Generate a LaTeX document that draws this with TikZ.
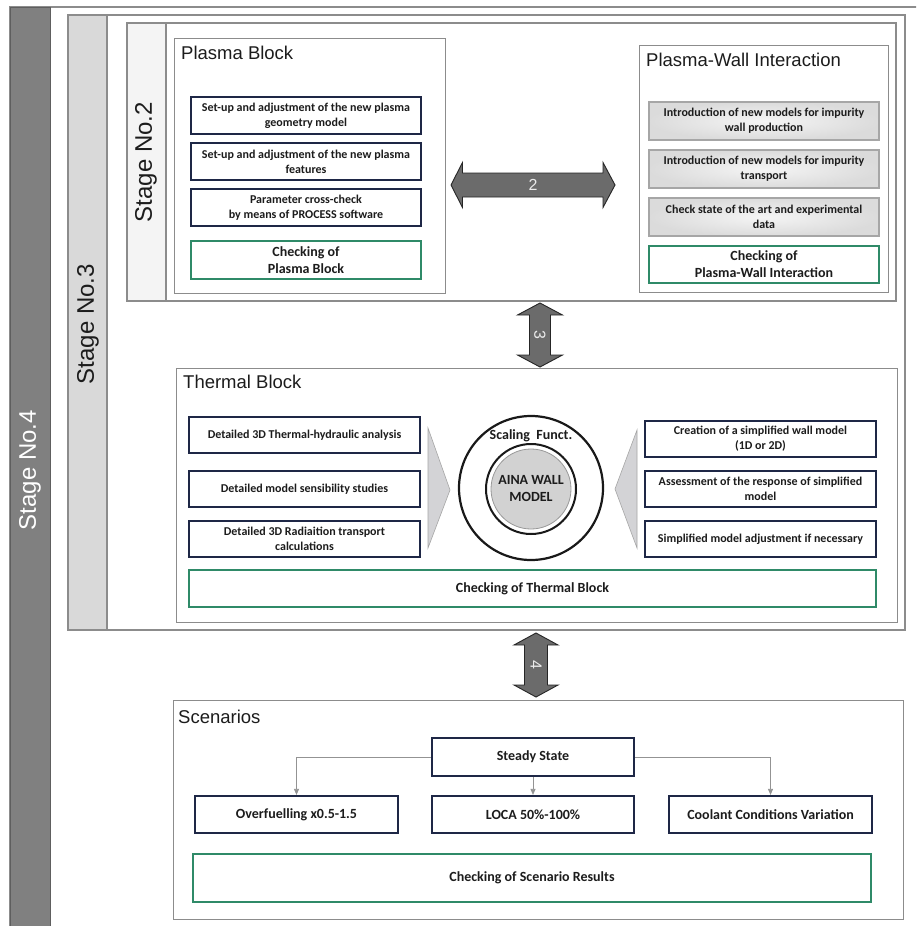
\documentclass[tikz,border=0pt]{standalone}
\usepackage{fontspec}
\setmainfont{Carlito}
\newfontfamily\arialf{Liberation Sans}
\usetikzlibrary{shadows,arrows.meta}

\definecolor{navyedge}{HTML}{1E2746}
\definecolor{checkgreen}{HTML}{2F8A68}
\definecolor{framegray}{HTML}{8C8C8C}
\definecolor{stagedark}{HTML}{808080}
\definecolor{stagedarkedge}{HTML}{5E5E5E}
\definecolor{stagemid}{HTML}{D9D9D9}
\definecolor{stagelight}{HTML}{F4F4F4}
\definecolor{arrowfill}{HTML}{6B6B6B}
\definecolor{chevfill}{HTML}{D3D3D6}
\definecolor{discfill}{HTML}{D2D2D2}
\definecolor{textdark}{HTML}{1C1C1C}

\tikzset{
  stageframe/.style={draw=framegray, line width=1.2pt},
  blockframe/.style={draw=framegray, line width=1pt, fill=white, inner sep=0pt, outer sep=0pt},
  blocktitle/.style={font=\arialf\fontsize{18.5}{22}\selectfont, text=textdark, anchor=west, inner sep=0pt},
  stagelabel/.style={font=\arialf\fontsize{24}{28}\selectfont, rotate=90, inner sep=0pt},
  taskshadow/.style={drop shadow={shadow xshift=1.2pt, shadow yshift=-1.2pt, opacity=0.3}},
  boxnavy/.style={draw=navyedge, line width=2.2pt, fill=white, inner sep=1pt, align=center,
    font=\bfseries\fontsize{12}{15}\selectfont, text=textdark, taskshadow},
  boxgrey/.style={draw=black!35, line width=1.6pt, inner color=black!4, outer color=black!14,
    inner sep=1pt, align=center, font=\bfseries\fontsize{12}{15}\selectfont, text=textdark, taskshadow},
  boxcheck/.style={draw=checkgreen, line width=1.5pt, fill=white, inner sep=1pt, align=center,
    font=\bfseries\fontsize{14}{17}\selectfont, text=textdark, taskshadow},
  blockarrow/.style={fill=arrowfill, draw=black!85, line width=0.9pt, line join=miter},
  arrowlabel/.style={font=\arialf\fontsize{16}{18}\selectfont, text=white!92!black, inner sep=0pt},
  chevron/.style={fill=chevfill, draw=gray!70, line width=0.6pt},
  flowline/.style={draw=gray!85, line width=0.8pt, -{Triangle[length=6pt,width=5pt]}},
}

\begin{document}
\begin{tikzpicture}[x=1pt,y=-1pt]
\useasboundingbox (0,0) rectangle (916,926);
\clip (0,0) rectangle (916,926);
\fill[white] (0,0) rectangle (916,926);

% ---------- stage frames ----------
\draw[stageframe] (10,7) rectangle (940,950);
\draw[draw=stagedarkedge, line width=1pt, fill=stagedark] (10,7) rectangle (50,950);
\node[stagelabel, text=white] (stage4) at (30,470) {Stage No.4};

\draw[stageframe, fill=white] (68,15) rectangle (905,630);
\draw[stageframe, fill=stagemid] (68,15) rectangle (107,630);
\node[stagelabel, text=textdark] (stage3) at (88,324) {Stage No.3};

\draw[stageframe, fill=white] (127,23) rectangle (896,301);
\draw[stageframe, fill=stagelight] (127,23) rectangle (166,301);
\node[stagelabel, text=textdark] (stage2) at (146,162) {Stage No.2};

% ---------- plasma block ----------
\node[blockframe, minimum width=271pt, minimum height=255pt] (plasma) at (309.5,165.5) {};
\node[blocktitle] (plasmaT) at (181,53) {Plasma Block};
\node[boxnavy, minimum width=230pt, minimum height=37pt] (p1) at (306,115.5)
  {Set-up and adjustment of the new plasma\\geometry model};
\node[boxnavy, minimum width=230pt, minimum height=37pt] (p2) at (306,161.5)
  {Set-up and adjustment of the new plasma\\features};
\node[boxnavy, minimum width=230pt, minimum height=37pt] (p3) at (306,207.5)
  {Parameter cross-check\\by means of PROCESS software};
\node[boxcheck, minimum width=230pt, minimum height=38pt] (pc) at (306,260)
  {Checking of\\Plasma Block};

% ---------- plasma-wall interaction ----------
\node[blockframe, minimum width=249pt, minimum height=247pt] (pwi) at (763.5,168.5) {};
\node[blocktitle] (pwiT) at (646,60) {Plasma-Wall Interaction};
\node[boxgrey, minimum width=230pt, minimum height=38pt] (w1) at (764,121)
  {Introduction of new models for impurity\\wall production};
\node[boxgrey, minimum width=230pt, minimum height=38pt] (w2) at (764,169)
  {Introduction of new models for impurity\\transport};
\node[boxgrey, minimum width=230pt, minimum height=38pt] (w3) at (764,217)
  {Check state of the art and experimental\\data};
\node[boxcheck, minimum width=230pt, minimum height=37pt] (wc) at (764,264.5)
  {Checking of\\Plasma-Wall Interaction};

% ---------- block arrow 2 ----------
\draw[blockarrow, shift={(533,185)}]
  (-82,0) -- (-70.5,-22.5) -- (-70.5,-12) -- (70,-12) -- (70,-22.5) -- (82,0)
  -- (70,22.5) -- (70,12) -- (-70.5,12) -- (-70.5,22.5) -- cycle;
\node[arrowlabel] (a2) at (533,185) {2};

% ---------- block arrow 3 ----------
\draw[blockarrow, shift={(540,335)}]
  (0,-32) -- (22.5,-20) -- (10.5,-20) -- (10.5,20) -- (22.5,20) -- (0,32)
  -- (-22.5,20) -- (-10.5,20) -- (-10.5,-20) -- (-22.5,-20) -- cycle;
\node[arrowlabel, rotate=-90] (a3) at (540,335) {3};

% ---------- thermal block ----------
\node[blockframe, minimum width=721pt, minimum height=254pt] (thermal) at (536.5,495) {};
\node[blocktitle] (thermalT) at (183,382) {Thermal Block};
\node[boxnavy, minimum width=231pt, minimum height=36pt] (t1) at (304.5,435)
  {Detailed 3D Thermal-hydraulic analysis};
\node[boxnavy, minimum width=231pt, minimum height=36pt] (t2) at (304.5,489)
  {Detailed model sensibility studies};
\node[boxnavy, minimum width=231pt, minimum height=36pt] (t3) at (304.5,539)
  {Detailed 3D Radiaition transport\\calculations};
\node[boxnavy, minimum width=231pt, minimum height=36pt] (r1) at (760.5,439)
  {Creation of a simplified wall model\\(1D or 2D)};
\node[boxnavy, minimum width=231pt, minimum height=36pt] (r2) at (760.5,489)
  {Assessment of the response of simplified\\model};
\node[boxnavy, minimum width=231pt, minimum height=36pt] (r3) at (760.5,539)
  {Simplified model adjustment if necessary};

\draw[chevron] (428,428) -- (450,490) -- (428,548) -- cycle;
\draw[chevron] (637,430) -- (615,489) -- (637,548) -- cycle;

\node[circle, draw=black!90, line width=2.2pt, fill=white, minimum size=144pt, inner sep=0pt] (ring) at (531,488) {};
\node[circle, draw=black!90, line width=2pt, fill=white, minimum size=90pt, inner sep=0pt] (core) at (531,489) {};
\node[circle, draw=gray!80, line width=0.8pt, fill=discfill, minimum size=80pt, inner sep=0pt,
  align=center, font=\bfseries\fontsize{14}{17}\selectfont, text=textdark] (aina) at (531,489)
  {AINA WALL\\MODEL};
\node[font=\bfseries\fontsize{14}{16}\selectfont, text=textdark, inner sep=0pt] (scal) at (531,436) {Scaling\ \ Funct.};

\node[boxcheck, minimum width=687pt, minimum height=37pt] (tc) at (532.5,588.5)
  {Checking of Thermal Block};

% ---------- block arrow 4 ----------
\draw[blockarrow, shift={(536,665)}]
  (0,-32) -- (22,-20) -- (11.5,-20) -- (11.5,20) -- (22,20) -- (0,32)
  -- (-22,20) -- (-11.5,20) -- (-11.5,-20) -- (-22,-20) -- cycle;
\node[arrowlabel, rotate=-90] (a4) at (536,665) {4};

% ---------- scenarios ----------
\node[blockframe, minimum width=730pt, minimum height=219pt] (scen) at (538,809.5) {};
\node[blocktitle] (scenT) at (178,717) {Scenarios};
\tikzset{scenbox/.style={boxnavy, font=\bfseries\fontsize{14}{17}\selectfont}}
\node[scenbox, minimum width=202pt, minimum height=38pt] (ss) at (533,757) {Steady State};
\node[scenbox, minimum width=203pt, minimum height=37pt] (s1) at (296.5,814.5) {Overfuelling x0.5-1.5};
\node[scenbox, minimum width=202pt, minimum height=37pt] (s2) at (533,814.5) {LOCA 50\%-100\%};
\node[scenbox, minimum width=203pt, minimum height=37pt] (s3) at (770.5,814.5) {Coolant Conditions Variation};
\node[boxcheck, minimum width=678pt, minimum height=48pt] (sc) at (532,878)
  {Checking of Scenario Results};

\draw[flowline] (ss.west) -| (s1.north);
\draw[flowline] (ss.south) -- (s2.north);
\draw[flowline] (ss.east) -| (s3.north);
\end{tikzpicture}
\end{document}
